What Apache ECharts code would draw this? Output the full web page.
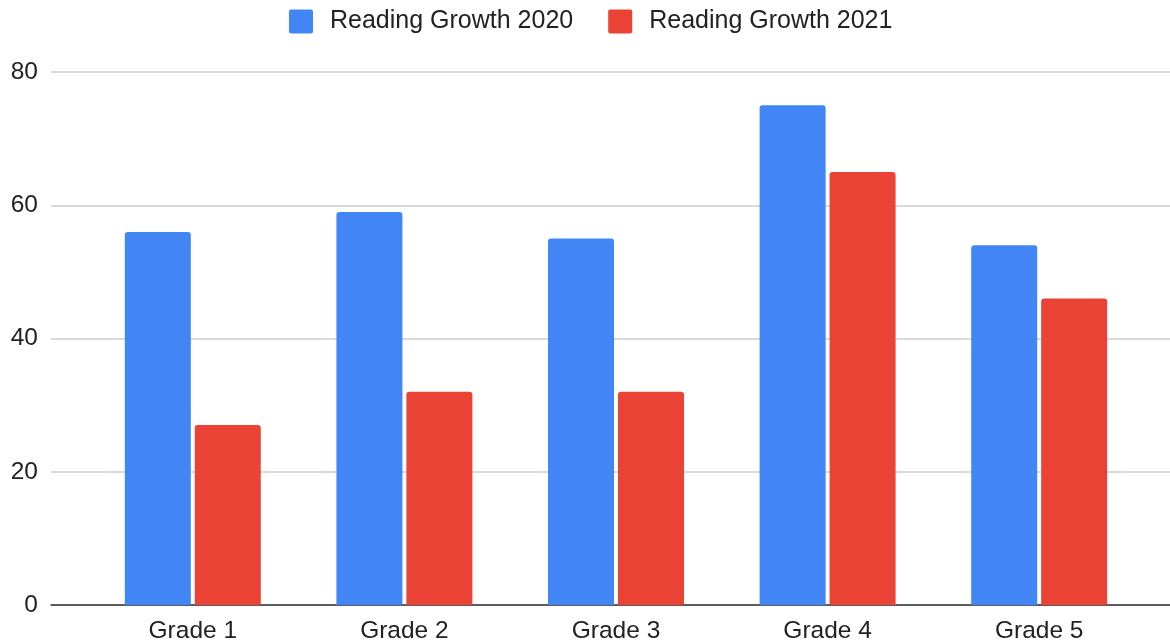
<!DOCTYPE html>
<html>
<head>
<meta charset="utf-8">
<script src="https://cdn.jsdelivr.net/npm/echarts@6/dist/echarts.min.js"></script>
<style>
html,body{margin:0;padding:0;background:#fff;}
#chart{width:1170px;height:642px;}
</style>
</head>
<body>
<div id="chart"></div>
<script>
const categories = ['Grade 1', 'Grade 2', 'Grade 3', 'Grade 4', 'Grade 5'];
const growth2020 = [56, 59, 55, 75, 54];
const growth2021 = [27, 32, 32, 65, 46];
const seriesNames = ['Reading Growth 2020', 'Reading Growth 2021'];
const yTicks = [0, 20, 40, 60, 80];

const chart = echarts.init(document.getElementById('chart'), null, {renderer: 'canvas'});
const font = 'Liberation Sans, Arial, sans-serif';
chart.setOption({
  animation: false,
  textStyle: {fontFamily: font},
  color: ['#4285F4', '#EA4335'],
  legend: {
    left: 284, top: 4,
    itemWidth: 24, itemHeight: 24, itemGap: 35,
    icon: 'path://M2,0H22Q24,0 24,2V22Q24,24 22,24H2Q0,24 0,22V2Q0,0 2,0Z',
    textStyle: {fontSize: 25, color: '#222', fontFamily: font, padding: [0, 0, 0, 12]},
    data: seriesNames
  },
  grid: [
    {left: 51, right: 0, top: 72, bottom: 37, outerBoundsMode: 'none', containLabel: false},
    {left: 87, right: 25, top: 72, bottom: 37, outerBoundsMode: 'none', containLabel: false}
  ],
  xAxis: [
    {gridIndex: 0, type: 'category', data: [''], axisLine: {show: true, lineStyle: {color: '#333', width: 1.5}},
     axisTick: {show: false}, axisLabel: {show: false}},
    {gridIndex: 1, type: 'category', data: categories, axisLine: {show: false}, axisTick: {show: false},
     axisLabel: {fontSize: 24.5, color: '#222', margin: 14, fontFamily: font}}
  ],
  yAxis: [
    {gridIndex: 0, type: 'value', min: yTicks[0], max: yTicks[yTicks.length - 1], interval: 20,
     axisLine: {show: false}, axisTick: {show: false},
     axisLabel: {fontSize: 24.5, color: '#222', margin: 13, fontFamily: font},
     splitLine: {lineStyle: {color: '#ccc', width: 1.5}}},
    {gridIndex: 1, type: 'value', min: yTicks[0], max: yTicks[yTicks.length - 1], interval: 20,
     axisLine: {show: false}, axisTick: {show: false}, axisLabel: {show: false}, splitLine: {show: false}}
  ],
  series: [
    {name: seriesNames[0], type: 'bar', xAxisIndex: 1, yAxisIndex: 1, data: growth2020,
     barWidth: 66, barGap: '6%', itemStyle: {borderRadius: [3, 3, 0, 0]}},
    {name: seriesNames[1], type: 'bar', xAxisIndex: 1, yAxisIndex: 1, data: growth2021,
     barWidth: 66, barGap: '6%', itemStyle: {borderRadius: [3, 3, 0, 0]}}
  ]
});
</script>
</body>
</html>
